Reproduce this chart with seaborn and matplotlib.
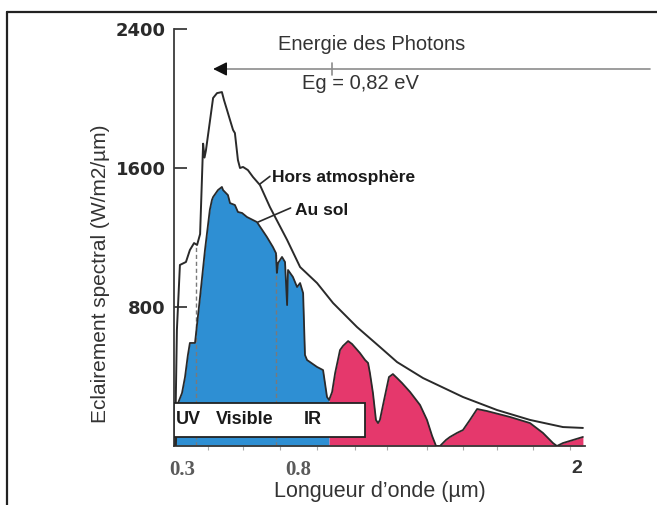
import matplotlib
matplotlib.use("Agg")
import matplotlib.pyplot as plt
from matplotlib.lines import Line2D
from matplotlib.patches import Rectangle
import numpy as np
import pandas as pd
import seaborn as sns

# ---- data ----
outer_x = [0.270, 0.278, 0.291, 0.317, 0.334, 0.352, 0.365, 0.378, 0.391, 0.397, 0.403,
           0.421, 0.434, 0.451, 0.472, 0.481, 0.494, 0.507, 0.520, 0.528, 0.541, 0.550,
           0.563, 0.584, 0.606, 0.636, 0.679, 0.753, 0.809, 0.882, 0.951, 1.054, 1.153,
           1.227, 1.339, 1.511, 1.658, 1.800, 1.942, 2.028]
outer_y = [0, 668, 1042, 1059, 1128, 1168, 1157, 1220, 1740, 1660, 1700,
           1876, 2003, 2031, 2037, 1991, 1934, 1876, 1819, 1801, 1646, 1600,
           1606, 1588, 1548, 1502, 1375, 1186, 1030, 938, 823, 685, 570,
           483, 391, 282, 207, 150, 109, 104]

ground_x = [0.274, 0.278, 0.283, 0.300, 0.313, 0.325, 0.334, 0.356, 0.378, 0.399, 0.420,
            0.429, 0.434, 0.455, 0.472, 0.477, 0.498, 0.507, 0.528, 0.541, 0.559, 0.580,
            0.623, 0.666, 0.692, 0.705, 0.709, 0.714, 0.731, 0.744, 0.753, 0.757, 0.778,
            0.796, 0.809, 0.822, 0.830, 0.839, 0.882, 0.908, 0.925, 0.934, 0.947, 0.960,
            0.972, 0.981, 0.994, 1.016, 1.033, 1.067, 1.089, 1.102, 1.110, 1.123, 1.136,
            1.145, 1.153, 1.171, 1.192, 1.209, 1.227, 1.248, 1.283, 1.326, 1.356, 1.378,
            1.395, 1.412, 1.438, 1.455, 1.485, 1.511, 1.541, 1.572, 1.615, 1.714, 1.800,
            1.856, 1.899, 1.916, 1.942, 2.028]
ground_y = [0, 200, 247, 305, 397, 520, 593, 593, 860, 1128, 1360,
            1416, 1433, 1473, 1491, 1473, 1444, 1398, 1387, 1347, 1341, 1318,
            1289, 1203, 1145, 1110, 996, 1053, 1088, 1059, 811, 1013, 973,
            915, 938, 880, 524, 495, 455, 437, 282, 265, 311, 420,
            495, 552, 576, 604, 587, 535, 495, 478, 420, 305, 150,
            132, 150, 265, 397, 414, 391, 363, 311, 236, 150, 58,
            0, 0, 35, 52, 75, 92, 150, 213, 201, 167, 132,
            75, 17, 0, 17, 52]

split_x = 0.934          # visible (blue) / infrared (red) boundary of the fill
band_edges = [0.36, 0.705]   # UV | Visible | IR dashed separators
band_tops = [1150, 1110]
band_names = ["UV", "Visible", "IR"]
band_label_x = [0.274, 0.447, 0.826]

yticks = [800, 1600, 2400]
xticks = [0.3, 0.8, 2]
xticklabels = ["0.3", "0.8", "2"]
minor_xticks = [0.412, 0.563, 0.722, 0.88, 1.046, 1.184, 1.356, 1.511, 1.658, 1.813, 1.972]

eg_x = 0.947
arrow_y = 2170

# ---- styling ----
sns.set_theme(style="white")
plt.rcParams["font.family"] = ["Liberation Sans", "DejaVu Sans"]

W, H = 657, 505
fig = plt.figure(figsize=(W / 100, H / 100), dpi=100)
ax = fig.add_axes([174 / W, 1 - 446 / H, 411 / W, 417 / H])
ax.set_xlim(0.2655, 2.037)
ax.set_ylim(0, 2400)

blue = "#2e8fd3"
red = "#e5386c"
line_c = "#2a2a2a"

gx = np.array(ground_x)
gy = np.array(ground_y)
ax.fill_between(gx, 0, gy, where=gx <= split_x, color=blue, lw=0, zorder=1)
ax.fill_between(gx, 0, gy, where=gx >= split_x, color=red, lw=0, zorder=1)

df_out = pd.DataFrame({"x": outer_x, "y": outer_y})
df_gnd = pd.DataFrame({"x": ground_x, "y": ground_y})
sns.lineplot(data=df_out, x="x", y="y", ax=ax, color=line_c, lw=1.4, estimator=None, zorder=3)
sns.lineplot(data=df_gnd, x="x", y="y", ax=ax, color=line_c, lw=1.3, estimator=None, zorder=3)

for bx, bt in zip(band_edges, band_tops):
    ax.plot([bx, bx], [0, bt], color="#7a7a7a", lw=1.0, ls=(0, (3, 2)), zorder=2)

# UV / Visible / IR box
ax.add_patch(Rectangle((0.2655, 52), 1.089 - 0.2655, 195, facecolor="white",
                       edgecolor="#222222", lw=1.3, zorder=5))
for name, lx in zip(band_names, band_label_x):
    ax.text(lx, 150, name, fontsize=13, fontweight="bold", color="#1a1a1a",
            ha="left", va="center", zorder=6)

# Labels of the curves
ax.text(0.688, 1548, "Hors atmosphère", fontsize=12.5, fontweight="bold", color="#1a1a1a",
        ha="left", va="center", zorder=6)
ax.plot([0.636, 0.679], [1508, 1552], color=line_c, lw=1.2, zorder=4)
ax.text(0.787, 1358, "Au sol", fontsize=12.5, fontweight="bold", color="#1a1a1a",
        ha="left", va="center", zorder=6)
ax.plot([0.628, 0.768], [1289, 1370], color=line_c, lw=1.2, zorder=4)

# Photon energy arrow
ax.plot([0.46, 2.317], [arrow_y, arrow_y], color="#8c8c8c", lw=1.2, clip_on=False, zorder=4)
ax.annotate("", xy=(0.434, arrow_y), xytext=(0.475, arrow_y),
            arrowprops=dict(arrowstyle="-|>,head_length=0.7,head_width=0.35",
                            color="#111111", lw=1.0, shrinkA=0, shrinkB=0),
            annotation_clip=False, zorder=5)
ax.plot([eg_x, eg_x], [2135, 2205], color="#8c8c8c", lw=1.2, zorder=4)
ax.text(0.714, 2308, "Energie des Photons", fontsize=14.5, color="#333333",
        ha="left", va="center")
ax.text(0.817, 2089, "Eg = 0,82 eV", fontsize=14.5, color="#333333",
        ha="left", va="center")

# Axes
for s in ["top", "right"]:
    ax.spines[s].set_visible(False)
for s in ["left", "bottom"]:
    ax.spines[s].set_color("#3a3a3a")
    ax.spines[s].set_linewidth(1.3)

ax.set_yticks(yticks)
ax.set_yticklabels([str(v) for v in yticks])
ax.tick_params(axis="y", direction="in", length=9, width=1.3, color="#3a3a3a", pad=6,
               labelsize=13, labelcolor="#2a2a2a", left=True)
for lab in ax.get_yticklabels():
    lab.set_fontfamily("DejaVu Sans")
    lab.set_fontweight("bold")

ax.set_xticks(xticks)
ax.set_xticklabels(xticklabels)
ax.set_xticks(minor_xticks, minor=True)
ax.tick_params(axis="x", which="major", length=0, pad=10, labelsize=15)
ax.tick_params(axis="x", which="minor", length=3, width=0.8, color="#aaaaaa",
               direction="out", bottom=True)
xl = ax.get_xticklabels()
for lab in xl[:2]:
    lab.set_fontfamily("Liberation Serif")
    lab.set_fontweight("bold")
    lab.set_color("#5a5a5a")
xl[2].set_fontweight("bold")
xl[2].set_color("#333333")
xl[2].set_fontsize(14)

ax.set_xlabel("")
ax.set_ylabel("")
ax.text(0.5, -0.110, "Longueur d’onde (µm)", transform=ax.transAxes, fontsize=15.5,
        color="#333333", ha="center", va="center")
ax.text(-0.18, 0.412, "Eclairement spectral (W/m2/µm)", transform=ax.transAxes,
        fontsize=15, color="#333333", ha="center", va="center", rotation=90)

# Outer frame (top and left edges visible)
fig.add_artist(Line2D([7 / W, 1.0], [1 - 12 / H, 1 - 12 / H], transform=fig.transFigure,
                      color="#222222", lw=1.6))
fig.add_artist(Line2D([7 / W, 7 / W], [0, 1 - 12 / H], transform=fig.transFigure,
                      color="#222222", lw=1.6))

fig.savefig("out.png", dpi=100)
